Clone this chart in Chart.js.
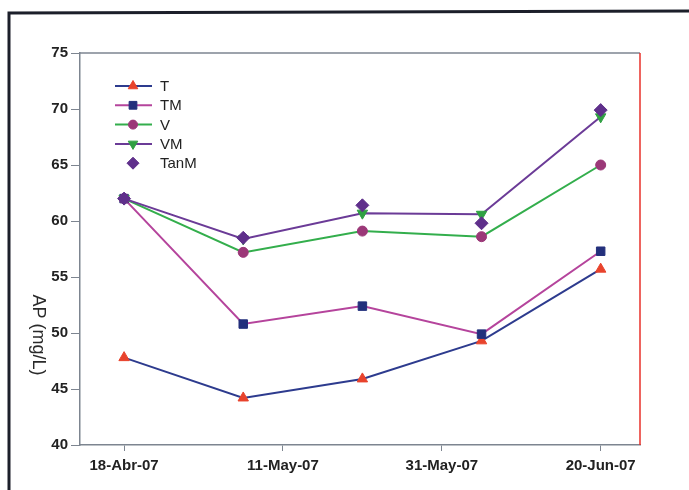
<!DOCTYPE html>
<html>
<head>
<meta charset="utf-8">
<script src="https://cdn.jsdelivr.net/npm/chart.js@4"></script>
<style>
  html, body { margin: 0; padding: 0; background: #fff; }
  #wrap { position: relative; width: 689px; height: 490px; }
</style>
</head>
<body>
<div id="wrap"><canvas id="ap-chart" width="689" height="490"></canvas></div>
<script>
(function () {
  "use strict";

  // sampling campaigns (evenly spaced on the time axis)
  const samples = [0, 1, 2, 3, 4];
  const tickPos = [0, 4 / 3, 8 / 3, 4];
  const tickLabels = ["18-Abr-07", "11-May-07", "31-May-07", "20-Jun-07"];

  // AP (mg/L) per treatment
  const T = [47.8, 44.2, 45.9, 49.3, 55.7];
  const TM = [62.0, 50.8, 52.4, 49.9, 57.3];
  const V = [62.0, 57.2, 59.1, 58.6, 65.0];
  const VM = [62.0, 58.4, 60.7, 60.6, 69.3];
  const TanM = [62.0, 58.5, 61.4, 59.8, 69.9];

  const yTicks = { min: 40, max: 75, step: 5 };

  const pts = (arr) => arr.map((v, i) => ({ x: samples[i], y: v }));
  const font = "'Liberation Sans', Arial, sans-serif";

  const series = [
    { label: "T", data: T, line: "#2d3b8e", mark: "#e8432c", style: "triangle", r: 6, rot: 0, order: 5 },
    { label: "TM", data: TM, line: "#b5449c", mark: "#23307c", style: "rect", r: 6, rot: 0, order: 4 },
    { label: "V", data: V, line: "#33ae4c", mark: "#9b3878", style: "circle", r: 5, rot: 0, order: 3 },
    { label: "VM", data: VM, line: "#6b3b97", mark: "#30a043", style: "triangle", r: 6, rot: 180, order: 2 },
    { label: "TanM", data: TanM, line: null, mark: "#5f2f8b", style: "rectRot", r: 6.5, rot: 0, order: 1 },
  ];

  const datasets = series.map((s) => ({
    label: s.label,
    data: pts(s.data),
    borderColor: s.line || s.mark,
    borderWidth: 2,
    showLine: !!s.line,
    pointStyle: s.style,
    pointRotation: s.rot,
    pointRadius: s.r,
    pointBackgroundColor: s.mark,
    pointBorderColor: s.mark,
    pointBorderWidth: 1,
    order: s.order,
    tension: 0,
  }));

  // page border, plot frame, y title and the line+marker legend
  const decor = {
    id: "decor",
    beforeDraw(chart) {
      const c = chart.ctx;
      c.save();
      c.fillStyle = "#ffffff";
      c.fillRect(0, 0, chart.width, chart.height);
      c.strokeStyle = "#1c1f2a";
      c.lineWidth = 3;
      c.beginPath();
      c.moveTo(9, 490);
      c.lineTo(9, 13);
      c.lineTo(689, 11);
      c.stroke();
      c.restore();
    },
    afterDatasetsDraw(chart) {
      const c = chart.ctx;
      const a = chart.chartArea;
      c.save();
      c.lineWidth = 1.5;
      c.strokeStyle = "#7d8590";
      c.beginPath();
      c.moveTo(a.left, a.top);
      c.lineTo(a.right, a.top);
      c.stroke();
      c.strokeStyle = "#e8302a";
      c.beginPath();
      c.moveTo(a.right, a.top);
      c.lineTo(a.right, a.bottom);
      c.stroke();

      // y title, reading top to bottom
      c.translate(38, 335);
      c.rotate(Math.PI / 2);
      c.fillStyle = "#2a2a2a";
      c.font = "18px " + font;
      c.textAlign = "center";
      c.textBaseline = "middle";
      c.fillText("AP (mg/L)", 0, 0);
      c.restore();

      // legend
      c.save();
      c.font = "15px " + font;
      c.textBaseline = "middle";
      series.forEach((s, i) => {
        const y = 86 + i * 19.3;
        if (s.line) {
          c.strokeStyle = s.line;
          c.lineWidth = 2;
          c.beginPath();
          c.moveTo(115, y);
          c.lineTo(152, y);
          c.stroke();
        }
        c.fillStyle = s.mark;
        c.strokeStyle = s.mark;
        c.lineWidth = 1;
        Chart.helpers.drawPoint(c, { pointStyle: s.style, radius: s.r - 0.5, rotation: s.rot, borderWidth: 1 }, 133, y);
        c.fillStyle = "#222";
        c.fillText(s.label, 160, y + 1);
      });
      c.restore();
    },
  };

  new Chart(document.getElementById("ap-chart"), {
    type: "line",
    data: { datasets },
    plugins: [decor],
    options: {
      responsive: false,
      animation: false,
      layout: { padding: { left: 0, top: 53, right: 49, bottom: 0 } },
      plugins: { legend: { display: false }, tooltip: { enabled: false } },
      scales: {
        x: {
          type: "linear",
          min: -0.37,
          max: 4.33,
          afterFit: (s) => (s.height = 45),
          afterBuildTicks: (s) => {
            s.ticks = tickPos.map((v) => ({ value: v }));
          },
          grid: {
            drawOnChartArea: false,
            drawTicks: true,
            tickLength: 6,
            tickColor: "#7d8590",
          },
          border: { color: "#7d8590", width: 1.5 },
          ticks: {
            autoSkip: false,
            maxRotation: 0,
            padding: 6,
            color: "#222",
            font: { family: font, size: 15, weight: "bold" },
            callback: (v, i) => tickLabels[i],
          },
        },
        y: {
          min: yTicks.min,
          max: yTicks.max,
          afterFit: (s) => (s.width = 80),
          grid: {
            drawOnChartArea: false,
            drawTicks: true,
            tickLength: 9,
            tickColor: "#7d8590",
          },
          border: { color: "#7d8590", width: 1.5 },
          ticks: {
            stepSize: yTicks.step,
            padding: 3,
            color: "#222",
            font: { family: font, size: 15, weight: "bold" },
          },
        },
      },
    },
  });
})();
</script>
</body>
</html>
